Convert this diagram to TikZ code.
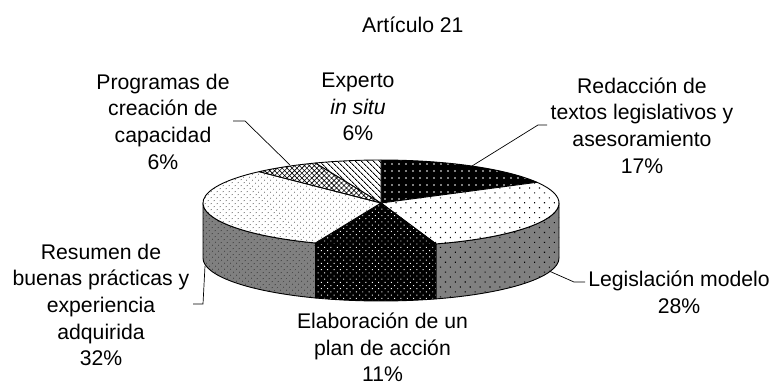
\documentclass[tikz,border=0pt]{standalone}
\usepackage{fontspec}
\setmainfont{Liberation Sans}
\usetikzlibrary{patterns.meta}
\begin{document}
\begin{tikzpicture}[x=1pt,y=1pt,
  lbl/.style={inner sep=0pt, align=center, font=\fontsize{21.2}{26.6}\selectfont},
  leader/.style={draw=black, line width=0.7pt},
  edge/.style={draw=black, line width=0.9pt, line join=round},
  pRed/.style={preaction={fill=black}, pattern={Dots[distance=7pt,radius=0.8pt]}, pattern color=white},
  pLegTop/.style={preaction={fill=white}, pattern={Dots[distance=7pt,angle=45,radius=0.8pt]}, pattern color=black},
  pLegSide/.style={preaction={fill=gray}, pattern={Dots[distance=7pt,angle=45,radius=0.8pt]}, pattern color=black},
  pElab/.style={preaction={fill=black}, pattern={Dots[distance=4.5pt,angle=45,radius=0.7pt]}, pattern color=white},
  pResTop/.style={preaction={fill=white}, pattern={Dots[distance=4pt,angle=45,radius=0.6pt]}, pattern color=gray!70!black},
  pResSide/.style={preaction={fill=gray}, pattern={Dots[distance=4pt,angle=45,radius=0.6pt]}, pattern color=black!80},
  pProg/.style={preaction={fill=white}, pattern={Hatch[angle=45,distance=3.5pt,line width=0.6pt]}, pattern color=black},
  pExp/.style={preaction={fill=white}, pattern={Lines[angle=-45,distance=4pt,line width=0.9pt]}, pattern color=black}
]
\fill[white] (0,0) rectangle (774,381);
\useasboundingbox (0,0) rectangle (774,381);

% ---- sides (front) ----
\begin{scope}[shift={(381,123)}]
\path[pLegSide, edge] (0:178 and 43) arc[start angle=0, end angle=-72, x radius=178, y radius=43] -- ++(0,55) arc[start angle=-72, end angle=0, x radius=178, y radius=43] -- cycle;
\path[pElab, edge] (-72:178 and 43) arc[start angle=-72, end angle=-111.6, x radius=178, y radius=43] -- ++(0,55) arc[start angle=-111.6, end angle=-72, x radius=178, y radius=43] -- cycle;
\path[pResSide, edge] (-111.6:178 and 43) arc[start angle=-111.6, end angle=-180, x radius=178, y radius=43] -- ++(0,55) arc[start angle=-180, end angle=-111.6, x radius=178, y radius=43] -- cycle;
\end{scope}

% ---- top ----
\begin{scope}[shift={(381,178)}]
\path[pRed, edge] (0,0) -- (90:178 and 43) arc[start angle=90, end angle=28.8, x radius=178, y radius=43] -- cycle;
\path[pLegTop, edge] (0,0) -- (28.8:178 and 43) arc[start angle=28.8, end angle=-72, x radius=178, y radius=43] -- cycle;
\path[pElab, edge] (0,0) -- (-72:178 and 43) arc[start angle=-72, end angle=-111.6, x radius=178, y radius=43] -- cycle;
\path[pResTop, edge] (0,0) -- (-111.6:178 and 43) arc[start angle=-111.6, end angle=-226.8, x radius=178, y radius=43] -- cycle;
\path[pProg, edge] (0,0) -- (-226.8:178 and 43) arc[start angle=-226.8, end angle=-248.4, x radius=178, y radius=43] -- cycle;
\path[pExp, edge] (0,0) -- (-248.4:178 and 43) arc[start angle=-248.4, end angle=-270, x radius=178, y radius=43] -- cycle;
\end{scope}

% ---- labels ----
\node[lbl, anchor=west] (title) at (362,356) {Artículo 21};
\node[lbl] (exp) at (358,274) {Experto\\\textit{in situ}\\6\%};
\node[lbl] (prog) at (163,259.3) {Programas de\\creación de\\capacidad\\6\%};
\node[lbl] (red) at (642,255.5) {Redacción de\\textos legislativos y\\asesoramiento\\17\%};
\node[lbl] (leg) at (679,89) {Legislación modelo\\28\%};
\node[lbl] (res) at (101,76) {Resumen de\\buenas prácticas y\\experiencia\\adquirida\\32\%};
\node[lbl] (ela) at (382.5,33.5) {Elaboración de un\\plan de acción\\11\%};

% ---- leaders ----
\coordinate (progA) at (233,260);
\coordinate (progB) at (245,260);
\coordinate (progP) at (290,216);
\coordinate (redA) at (547,256);
\coordinate (redB) at (538,256);
\coordinate (redP) at (472,215);
\coordinate (legA) at (585,99);
\coordinate (legB) at (574,99);
\coordinate (legP) at (549,110);
\coordinate (resA) at (193,77);
\coordinate (resB) at (203,77);
\coordinate (resP) at (205,115);
\draw[leader] (progA) -- (progB) -- (progP);
\draw[leader] (redA) -- (redB) -- (redP);
\draw[leader] (legA) -- (legB) -- (legP);
\draw[leader] (resA) -- (resB) -- (resP);
\end{tikzpicture}
\end{document}
